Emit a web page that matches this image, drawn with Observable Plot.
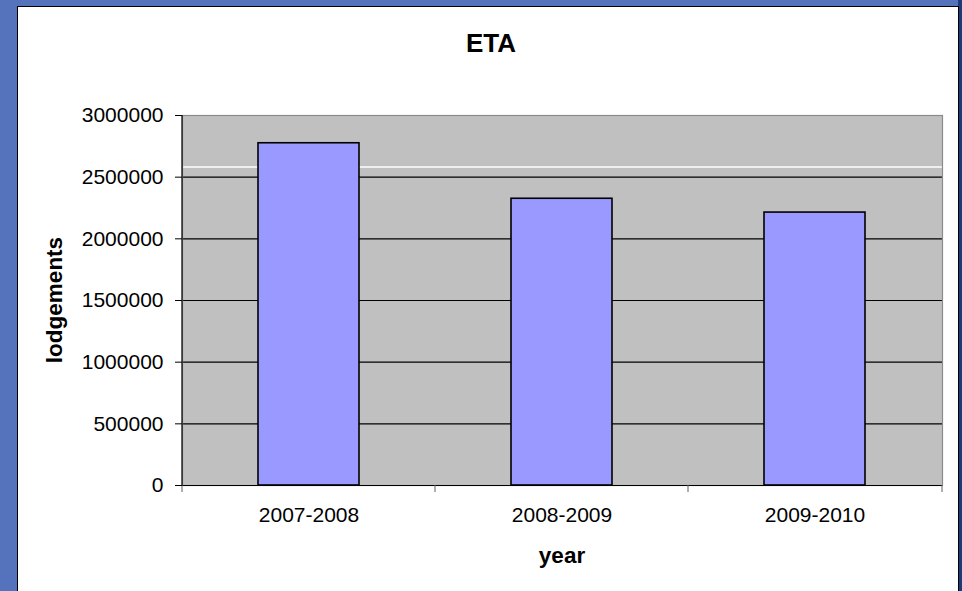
<!DOCTYPE html>
<html>
<head>
<meta charset="utf-8">
<script src="https://cdn.jsdelivr.net/npm/d3@7"></script>
<script src="https://cdn.jsdelivr.net/npm/@observablehq/plot@0.6"></script>
<style>
  html, body { margin: 0; padding: 0; }
  body { width: 962px; height: 591px; overflow: hidden; position: relative; background: #5573BD; font-family: "Liberation Sans", Arial, sans-serif; }
  #panel { position: absolute; left: 17px; top: 6px; width: 940px; height: 600px; background: #ffffff; border-left: 1px solid #000; border-top: 1px solid #000; border-right: 1px solid #000; }
  #navy { position: absolute; left: 958px; top: 0; width: 4px; height: 591px; background: #1F3A78; }
  #chart { position: absolute; left: 0; top: 0; }
  .lbl { position: absolute; line-height: 1; white-space: nowrap; color: #000; font-weight: bold; }
  #title { left: 491px; top: 43px; font-size: 26px; transform: translate(-50%, -50%); }
  #ylabel { left: 55px; top: 300px; font-size: 22.5px; transform: translate(-50%, -50%) rotate(-90deg); }
  #xlabel { left: 562px; top: 556px; font-size: 22.5px; transform: translate(-50%, -50%); }
</style>
</head>
<body>
<div id="navy"></div>
<div id="panel"></div>
<div id="chart"></div>
<div class="lbl" id="title">ETA</div>
<div class="lbl" id="ylabel">lodgements</div>
<div class="lbl" id="xlabel">year</div>
<script>
const categories = ["2007-2008", "2008-2009", "2009-2010"];
const lodgements = [2775000, 2325000, 2213000];
const yTicks = [0, 500000, 1000000, 1500000, 2000000, 2500000, 3000000];
const whiteLineValue = 2582500;

const data = categories.map((c, i) => ({year: c, value: lodgements[i]}));

function categoryBoundaries(index, scales, values, dimensions) {
  const x = scales.x, y = scales.y;
  const bw = typeof x.bandwidth === "function" ? x.bandwidth() : x.bandwidth;
  const left = dimensions.marginLeft;
  const right = dimensions.width - dimensions.marginRight;
  const xs = [left];
  for (let i = 0; i < categories.length - 1; i++) {
    xs.push(((x(categories[i]) + bw) + x(categories[i + 1])) / 2);
  }
  xs.push(right);
  const y0 = y(0);
  const g = d3.create("svg:g");
  g.selectAll("line.t").data(xs).join("line")
    .attr("x1", d => d).attr("x2", d => d)
    .attr("y1", y0).attr("y2", y0 + 7)
    .attr("stroke", "#606060").attr("stroke-width", 1);
  g.append("line")
    .attr("x1", left).attr("x2", left)
    .attr("y1", y(yTicks[yTicks.length - 1])).attr("y2", y0)
    .attr("stroke", "#000").attr("stroke-width", 1.2);
  return g.node();
}

const chart = Plot.plot({
  width: 962,
  height: 591,
  marginLeft: 182,
  marginRight: 20,
  marginTop: 115,
  marginBottom: 106,
  style: {background: "transparent", fontFamily: "'Liberation Sans', Arial, sans-serif", fontSize: "21px", color: "#000"},
  x: {domain: categories, paddingInner: 0.6, paddingOuter: 0.3, label: null},
  y: {domain: [0, 3000000], label: null},
  marks: [
    Plot.frame({fill: "#C0C0C0"}),
    Plot.ruleY([whiteLineValue], {stroke: "#ffffff", strokeWidth: 1.5}),
    Plot.gridY(yTicks, {stroke: "#000", strokeOpacity: 1, strokeWidth: 1.2}),
    Plot.frame({stroke: "#8a8a8a", strokeWidth: 1.2}),
    Plot.barY(data, {x: "year", y: "value", fill: "#9999FF", stroke: "#000", strokeWidth: 1.6}),
    Plot.ruleY([0], {stroke: "#000", strokeWidth: 1.2}),
    categoryBoundaries,
    Plot.axisY(yTicks, {tickSize: 7, tickPadding: 12, tickFormat: d => String(d), fontSize: 21, label: null}),
    Plot.axisX({tickSize: 0, tickPadding: 22, fontSize: 21, label: null})
  ]
});
document.getElementById("chart").appendChild(chart);
</script>
</body>
</html>
